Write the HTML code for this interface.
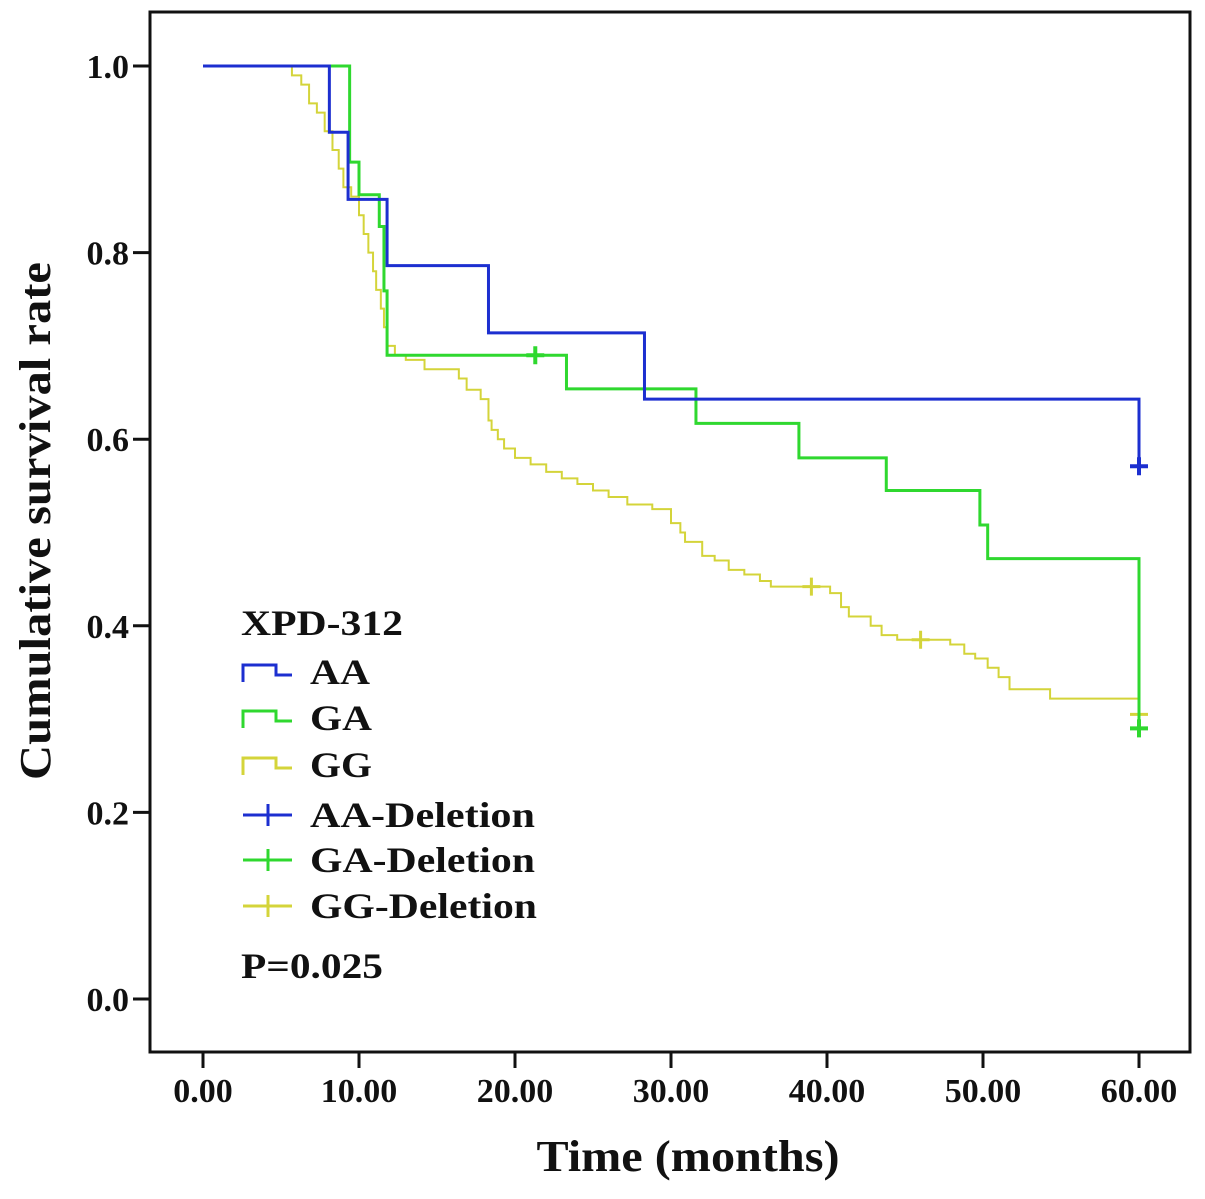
<!DOCTYPE html>
<html><head><meta charset="utf-8"><style>
body{margin:0;background:#fff}
svg text{font-family:"Liberation Serif",serif;font-weight:bold;fill:#111}
</style></head><body>
<svg id="chart" width="1205" height="1194" viewBox="0 0 1205 1194" xmlns="http://www.w3.org/2000/svg">
<rect x="150" y="12" width="1040" height="1040" fill="none" stroke="#111" stroke-width="3"/>
<g id="axes"></g>
<g id="series"></g>
<text x="688" y="1171" font-size="44" text-anchor="middle" textLength="303" lengthAdjust="spacingAndGlyphs">Time (months)</text>
<text transform="translate(50,521) rotate(-90)" font-size="44" text-anchor="middle" textLength="518" lengthAdjust="spacingAndGlyphs">Cumulative survival rate</text>
<g id="legend">
<text x="241" y="635" font-size="36" textLength="162" lengthAdjust="spacingAndGlyphs">XPD-312</text>
<text x="241" y="978" font-size="36" textLength="142" lengthAdjust="spacingAndGlyphs">P=0.025</text>
</g>
</svg>
<script>
const xTicks=[0,10,20,30,40,50,60];
const xTickLabels=["0.00","10.00","20.00","30.00","40.00","50.00","60.00"];
const yTicks=[0,0.2,0.4,0.6,0.8,1.0];
const yTickLabels=["0.0","0.2","0.4","0.6","0.8","1.0"];
const aaTimes=[0,8.1,9.3,11.8,18.3,28.3,60];
const aaSurv=[1,0.929,0.857,0.786,0.714,0.643,0.571];
const aaCensorT=[60];const aaCensorS=[0.571];
const gaTimes=[0,9.4,10.0,11.3,11.6,11.8,23.3,31.6,38.2,43.8,49.8,50.3,60];
const gaSurv=[1,0.897,0.862,0.828,0.759,0.69,0.654,0.617,0.58,0.545,0.508,0.472,0.29];
const gaCensorT=[21.3,60];const gaCensorS=[0.69,0.29];
const ggTimes=[0,5.7,6.3,6.8,7.3,7.8,8.3,8.7,9.0,9.5,10.0,10.3,10.6,10.9,11.1,11.4,11.6,11.8,12.3,13,14.2,16.4,16.9,17.8,18.3,18.5,18.9,19.3,20,21,22,23,24,25,26,27.2,28.8,30,30.6,30.9,32,32.8,33.7,34.7,35.7,36.4,40.2,40.9,41.4,42.8,43.5,44.5,47.9,48.8,49.5,50.3,51.0,51.7,54.3,60];
const ggSurv=[1,0.99,0.98,0.96,0.95,0.93,0.91,0.89,0.87,0.86,0.84,0.82,0.80,0.78,0.76,0.74,0.72,0.70,0.69,0.685,0.675,0.665,0.653,0.643,0.62,0.61,0.60,0.59,0.58,0.573,0.565,0.558,0.552,0.545,0.538,0.53,0.525,0.51,0.50,0.49,0.475,0.47,0.46,0.455,0.448,0.442,0.435,0.42,0.41,0.40,0.39,0.385,0.38,0.37,0.365,0.355,0.345,0.332,0.322,0.322];
const ggCensorT=[39.0,46.0,60];const ggCensorS=[0.442,0.385,0.305];
const xS=t=>203+t*15.6;
const yS=s=>999-s*933;
const NS="http://www.w3.org/2000/svg";
function mk(tag,attrs,parent){const e=document.createElementNS(NS,tag);for(const k in attrs)e.setAttribute(k,attrs[k]);parent.appendChild(e);return e;}
const axes=document.getElementById('axes');
xTicks.forEach((t,i)=>{
 const l=mk('line',{x1:xS(t),x2:xS(t),y1:1052,y2:1068,stroke:'#111','stroke-width':3},axes);
 
 
 const tx=mk('text',{x:xS(t),y:1102,'font-size':34,'text-anchor':'middle'},axes);tx.textContent=xTickLabels[i];
 
 
});
yTicks.forEach((v,i)=>{
 const l=mk('line',{x1:133,x2:150,y1:yS(v),y2:yS(v),stroke:'#111','stroke-width':3},axes);
 
 
 const tx=mk('text',{x:129,y:yS(v)+12,'font-size':34,'text-anchor':'end'},axes);tx.textContent=yTickLabels[i];
 
 
});
const sg=document.getElementById('series');
function stepPath(T,S){let d=`M${xS(T[0])},${yS(S[0])}`;for(let i=1;i<T.length;i++){d+=` H${xS(T[i])} V${yS(S[i])}`;}return d;}
function drawSeries(name,T,S,CT,CS,color,w){
 const p=mk('path',{d:stepPath(T,S),fill:'none',stroke:color,'stroke-width':w},sg);
 
 
 CT.forEach((t,i)=>{
  const x=xS(t),y=yS(CS[i]);
  const c=mk('path',{d:`M${x-9},${y}H${x+9}M${x},${y-9}V${y+9}`,stroke:color,'stroke-width':w+1},sg);
  
  
 });
}
drawSeries('gg',ggTimes,ggSurv,ggCensorT,ggCensorS,'#d4d43a',2);
drawSeries('ga',gaTimes,gaSurv,gaCensorT,gaCensorS,'#2fd82f',3);
drawSeries('aa',aaTimes,aaSurv,aaCensorT,aaCensorS,'#1c2fd0',3);
const lg=document.getElementById('legend');
const entries=[["AA","#1c2fd0",'step'],["GA","#2fd82f",'step'],["GG","#d4d43a",'step'],["AA-Deletion","#1c2fd0",'cross'],["GA-Deletion","#2fd82f",'cross'],["GG-Deletion","#d4d43a",'cross']];
const entryY=[672,718,765,815,860,906];
const entryW=[60,62,62,225,225,227];
entries.forEach((e,i)=>{
 const y=entryY[i];
 const g=mk('g',{},lg);
 
 
 if(e[2]==='step') mk('path',{d:`M243,${y+10}V${y-7}H276V${y+3}H292`,fill:'none',stroke:e[1],'stroke-width':3},g);
 else mk('path',{d:`M243,${y}H292M268,${y-11}V${y+11}`,fill:'none',stroke:e[1],'stroke-width':3},g);
 const t=mk('text',{x:310,y:y+12,'font-size':36,textLength:entryW[i],lengthAdjust:'spacingAndGlyphs'},g);t.textContent=e[0];
});
</script>
</body></html>
